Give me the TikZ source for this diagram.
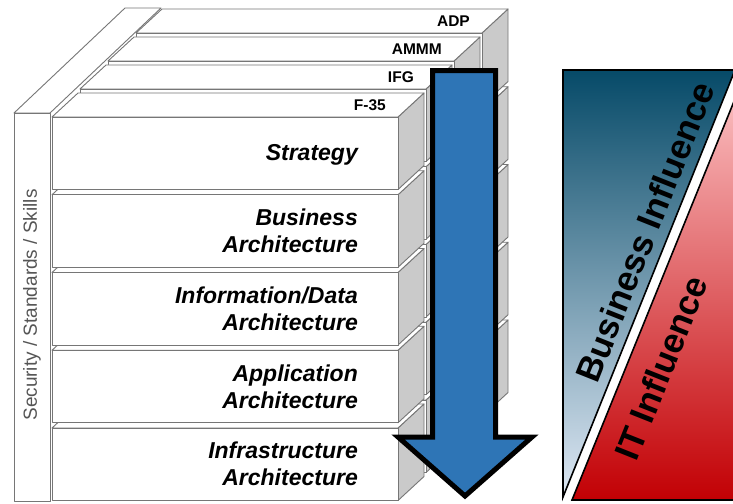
\documentclass[tikz,border=0pt]{standalone}
\usepackage{fontspec}
\setmainfont{Liberation Sans}
\definecolor{layergray}{RGB}{202,202,202}
\definecolor{edgegray}{RGB}{118,118,118}
\definecolor{pillartext}{RGB}{85,85,85}
\definecolor{arrowblue}{RGB}{46,117,182}
\definecolor{bizdark}{RGB}{6,74,104}
\definecolor{bizlight}{RGB}{222,232,244}
\definecolor{itlight}{RGB}{255,204,206}
\definecolor{itdark}{RGB}{194,0,4}
\begin{document}
\begin{tikzpicture}[x=1pt,y=-1pt,
    face/.style={draw=edgegray,fill=white,line width=0.9pt,line join=round},
    sideface/.style={face,fill=layergray},
    layertext/.style={font=\fontsize{23}{27}\selectfont\bfseries\itshape,align=right,anchor=east,inner sep=0pt},
    tagtext/.style={font=\fontsize{15.5}{17}\selectfont\bfseries,anchor=east,inner sep=0pt},
    influence/.style={font=\fontsize{35}{38}\selectfont\bfseries,rotate=68.3,inner sep=0pt}]
    \useasboundingbox (0,0) rectangle (733,503);
    \fill [white] (0,0) rectangle (733,503);
    \clip (0,0) rectangle (733,503);

    % side pillar
    \draw [face] (14,113) -- (125,8) -- (161,8) -- (50,113) -- cycle;
    \draw [face] (14,113) rectangle (50,501);
    \node [font=\fontsize{19}{21}\selectfont,text=pillartext,rotate=90] (pillar) at (32,305) {Security / Standards / Skills};

    % four stacks, back one first
    \foreach \s/\tag in {3/ADP,2/AMMM,1/IFG,0/F-35} {
        \foreach \k in {4,3,2,1,0} {
            \pgfmathsetmacro\L{52+28*\s}
            \pgfmathsetmacro\R{398+28*\s}
            \pgfmathsetmacro\T{117-28*\s+77.75*\k}
            \pgfmathsetmacro\B{\T+72.5}
            \draw [sideface] (\R,\T) -- ++(26,-24) -- ++(0,72.5) -- (\R,\B) -- cycle;
            \draw [face] (\L,\T) -- ++(26,-24) -- (\R+26,\T-24) -- (\R,\T) -- cycle;
            \draw [face] (\L,\T) rectangle (\R,\B);
        }
        \node [tagtext] (tag\s) at (398+28*\s-12,117-28*\s-12) {\tag};
    }

    % layer names
    \node [layertext] (strategy) at (358,155) {Strategy};
    \node [layertext] (business) at (358,231) {Business\\Architecture};
    \node [layertext] (information) at (358,309) {Information/Data\\Architecture};
    \node [layertext] (application) at (358,386.5) {Application\\Architecture};
    \node [layertext] (infrastructure) at (358,464) {Infrastructure\\Architecture};

    % big arrow
    \draw [fill=arrowblue,draw=black,line width=5pt,line join=miter]
        (432.5,70.5) -- (495.5,70.5) -- (495.5,437) -- (532,437) -- (465,496)
        -- (398,437) -- (432.5,437) -- cycle;

    % influence triangles
    \shadedraw [top color=bizdark,bottom color=bizlight,draw=black,line width=1.6pt,line join=miter]
        (563,70) -- (735,70) -- (563,497) -- cycle;
    \shadedraw [top color=itlight,bottom color=itdark,draw=black,line width=1.6pt,line join=miter]
        (572,500) -- (750,500) -- (750,62) -- cycle;
    \node [influence] (biz) at (645,232) {Business Influence};
    \node [influence] (it) at (661,368) {IT Influence};
\end{tikzpicture}
\end{document}
